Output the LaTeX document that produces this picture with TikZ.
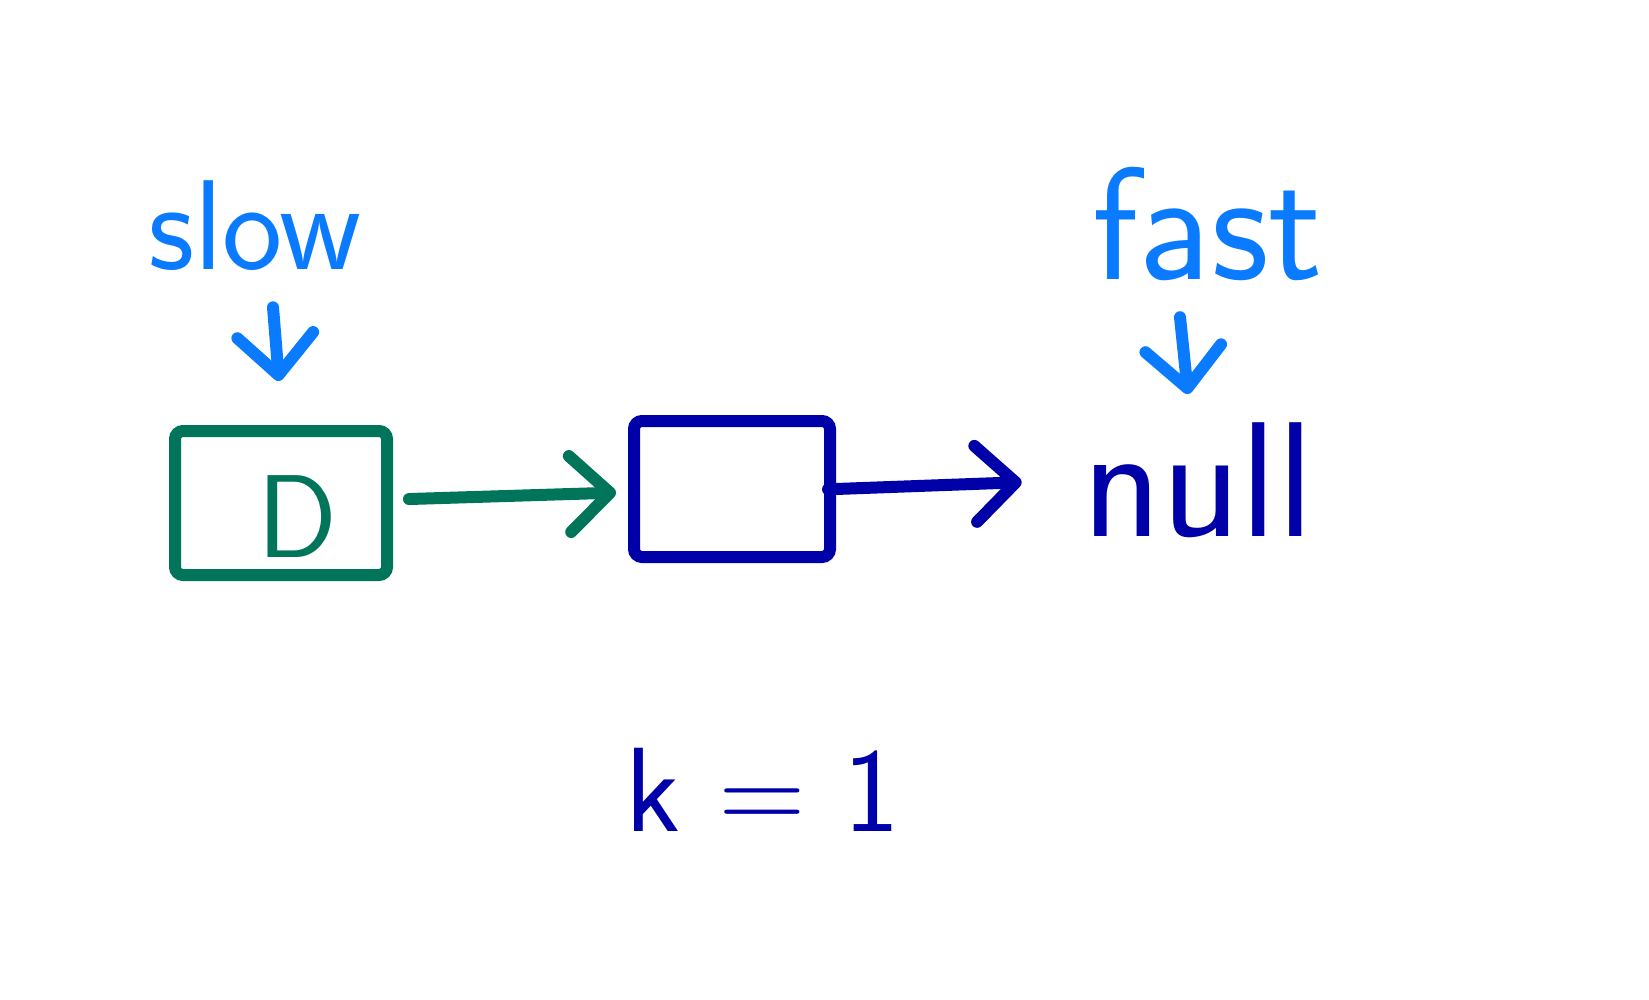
\documentclass[tikz,border=0pt]{standalone}
\usepackage{tikz}
\usetikzlibrary{arrows.meta,positioning}
\definecolor{sky}{HTML}{0A7BFF}
\definecolor{moss}{HTML}{00755A}
\definecolor{ink}{HTML}{0000A8}
\tikzstyle{list box}=[draw,line width=6pt,rounded corners=4pt,inner sep=0pt]
\tikzstyle{hand text}=[inner sep=0pt,font=\sffamily]
\tikzstyle{hand arrow}=[line width=6pt,line cap=round,line join=round,-{Straight Barb[round,length=20pt,width=38pt]}]

\begin{document}
\begin{tikzpicture}[x=0.5pt,y=-0.5pt]
		\useasboundingbox (0,0) rectangle (1649,1000);

		% labels on top
		\node(slow)[hand text,sky,font=\sffamily\fontsize{64}{64}\selectfont] at (255,226){slow};
		\node(fast)[hand text,sky,font=\sffamily\fontsize{80}{80}\selectfont] at (1208,224){fast};

		% the list
		\node(b1)[list box,moss,minimum width=106pt,minimum height=72pt] at (281,503){};
		\node(d)[hand text,moss,font=\sffamily\fontsize{59}{59}\selectfont] at (297,517){D};
		\node(b2)[list box,ink,minimum width=98pt,minimum height=68pt] at (732,489){};
		\node(null)[hand text,ink,font=\sffamily\fontsize{82}{82}\selectfont] at (1198,480){null};

		\node(k)[hand text,ink,font=\sffamily\fontsize{60}{60}\selectfont] at (763,790){k = 1};

		\draw[hand arrow,sky] ([xshift=9pt,yshift=-18pt]slow.south) -- ([xshift=-1pt,yshift=22pt]b1.north);
		\draw[hand arrow,sky] ([xshift=-14pt,yshift=-18pt]fast.south) -- ([xshift=-5pt,yshift=14pt]null.north);
		\draw[hand arrow,moss,shorten <=8pt,shorten >=6pt] (b1) -- (b2);
		\draw[hand arrow,ink,shorten <=-4pt,shorten >=30pt] (b2.east) -- (null.west);

\end{tikzpicture}
\end{document}
